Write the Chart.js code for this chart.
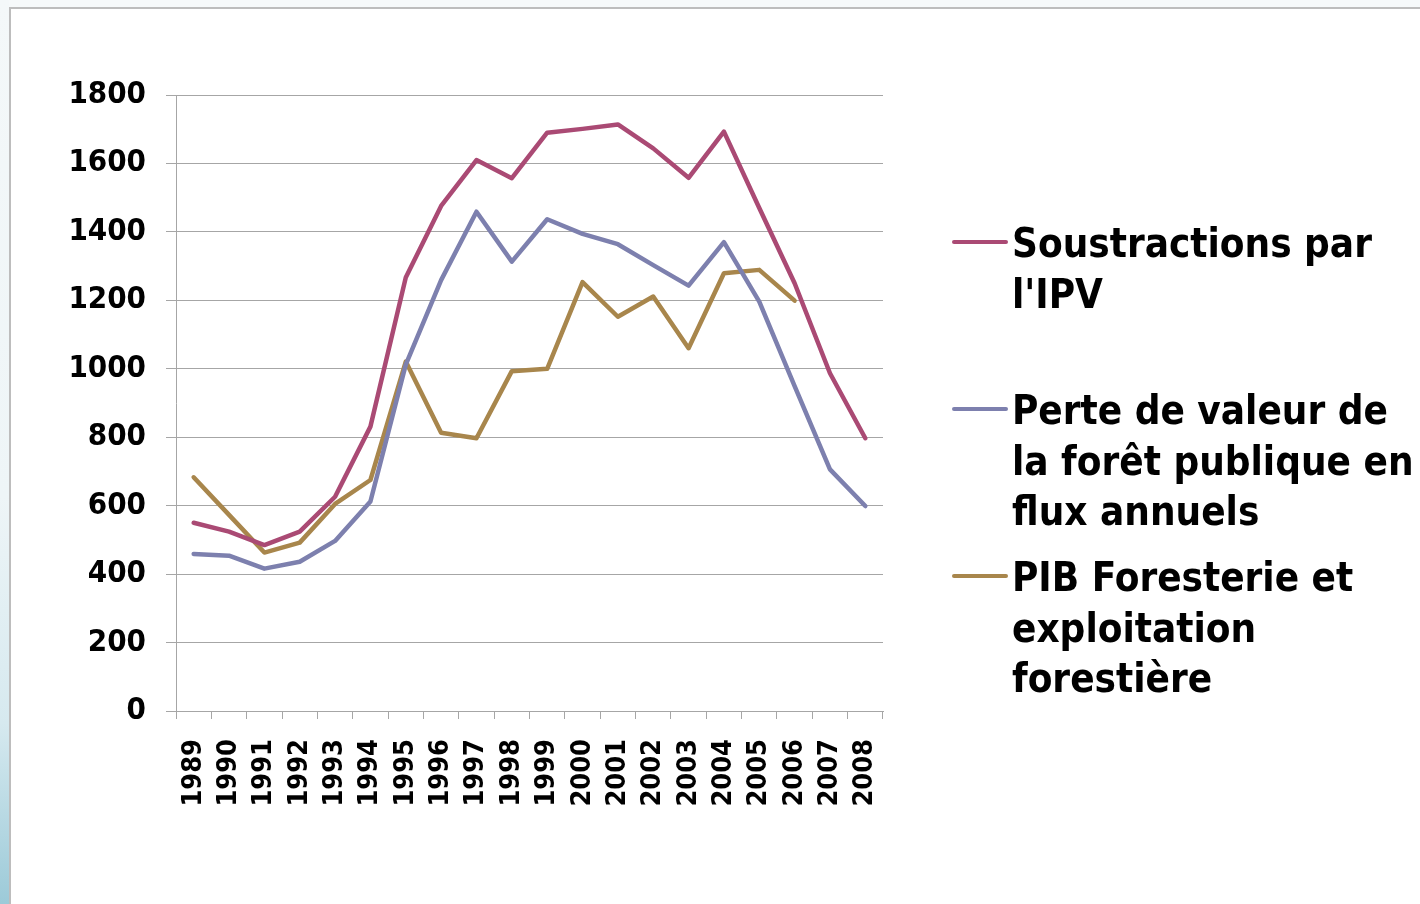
<!DOCTYPE html>
<html lang="fr">
<head>
<meta charset="utf-8">
<title>Soustractions par l'IPV</title>
<script src="https://cdn.jsdelivr.net/npm/chart.js@4/dist/chart.umd.min.js"></script>
<style>
    html, body {
        margin: 0;
        padding: 0;
        width: 1420px;
        height: 904px;
        overflow: hidden;
        background: #f6f9fa;
    }
    .strip {
        position: absolute;
        left: 0;
        top: 0;
        width: 9px;
        height: 904px;
        background: linear-gradient(#f4f8f9 0%, #eef5f7 55%, #d6e9ef 80%, #9ccad8 100%);
    }
    .frame {
        position: absolute;
        left: 9px;
        top: 7px;
        width: 1409px;
        height: 895px;
        border-left: 2px solid #bdbdbd;
        border-top: 2px solid #bdbdbd;
        background: #ffffff;
    }
</style>
</head>
<body>
<div class="strip"></div>
<div class="frame">
    <canvas id="lineChart" width="1409" height="895"></canvas>
</div>
<script>
// 데이터
const years = ['1989', '1990', '1991', '1992', '1993', '1994', '1995', '1996', '1997', '1998',
               '1999', '2000', '2001', '2002', '2003', '2004', '2005', '2006', '2007', '2008'];

const soustractionsIPV = [550, 524, 485, 524, 626, 831, 1267, 1476, 1610, 1557,
                          1690, 1701, 1714, 1644, 1558, 1693, 1470, 1250, 987, 797];

const perteValeurForet = [459, 454, 416, 436, 497, 612, 1012, 1259, 1459, 1313,
                          1437, 1394, 1364, 1303, 1243, 1370, 1196, 949, 706, 599];

const pibForesterie = [683, 573, 463, 492, 605, 675, 1021, 813, 797, 993,
                       1000, 1253, 1152, 1211, 1060, 1279, 1289, 1199, null, null];

const yTicks = [0, 200, 400, 600, 800, 1000, 1200, 1400, 1600, 1800];

const seriesNames = [
    ['Soustractions par', "l'IPV"],
    ['Perte de valeur de', 'la forêt publique en', 'flux annuels'],
    ['PIB Foresterie et', 'exploitation', 'forestière']
];

const FONT = "'DejaVu Sans Condensed', 'DejaVu Sans', sans-serif";

// 오른쪽 범례 (직접 그림)
const sideLegend = {
    id: 'sideLegend',
    afterDraw(chart) {
        const ctx = chart.ctx;
        ctx.save();
        ctx.font = 'bold 40px ' + FONT;
        ctx.fillStyle = '#000000';
        ctx.textBaseline = 'alphabetic';
        ctx.textAlign = 'left';
        chart.data.datasets.forEach((ds, i) => {
            const lineY = 233 + i * 167;
            ctx.strokeStyle = ds.borderColor;
            ctx.lineWidth = 4;
            ctx.lineCap = 'round';
            ctx.beginPath();
            ctx.moveTo(943, lineY);
            ctx.lineTo(995, lineY);
            ctx.stroke();
            ds.label.forEach((line, j) => {
                ctx.fillText(line, 1001, lineY + 15 + j * 50.5);
            });
        });
        ctx.restore();
    }
};

const ctx = document.getElementById('lineChart');

const lineChart = new Chart(ctx, {
    type: 'line',
    data: {
        labels: years,
        datasets: [{
            label: seriesNames[0],
            data: soustractionsIPV,
            borderColor: '#aa4a74'
        }, {
            label: seriesNames[1],
            data: perteValeurForet,
            borderColor: '#7d80ae'
        }, {
            label: seriesNames[2],
            data: pibForesterie,
            borderColor: '#a8864c'
        }]
    },
    options: {
        responsive: false,
        animation: false,
        devicePixelRatio: 1,
        layout: {
            padding: { left: 0, top: 86, right: 537, bottom: 0 }
        },
        elements: {
            line: {
                borderWidth: 4.5,
                tension: 0,
                fill: false,
                borderJoinStyle: 'round',
                borderCapStyle: 'round'
            },
            point: { radius: 0, hoverRadius: 0 }
        },
        plugins: {
            legend: { display: false },
            tooltip: { enabled: false }
        },
        scales: {
            x: {
                offset: true,
                grid: {
                    offset: true,
                    drawOnChartArea: false,
                    drawTicks: true,
                    tickLength: 8,
                    color: '#a6a6a6',
                    lineWidth: 1
                },
                border: { color: '#a6a6a6', width: 1 },
                ticks: {
                    minRotation: 90,
                    maxRotation: 90,
                    autoSkip: false,
                    padding: 20,
                    color: '#000000',
                    font: { family: FONT, size: 27, weight: 'bold' }
                },
                afterFit(scale) { scale.height = 193; }
            },
            y: {
                min: 0,
                max: 1800,
                afterBuildTicks(scale) {
                    scale.ticks = yTicks.map(v => ({ value: v }));
                },
                grid: {
                    color: '#a6a6a6',
                    lineWidth: 1,
                    drawTicks: true,
                    tickLength: 10
                },
                border: { color: '#a6a6a6', width: 1 },
                ticks: {
                    padding: 20,
                    color: '#000000',
                    font: { family: FONT, size: 31, weight: 'bold' },
                    callback: value => String(value)
                },
                afterFit(scale) { scale.width = 165; }
            }
        }
    },
    plugins: [sideLegend]
});
</script>
</body>
</html>
